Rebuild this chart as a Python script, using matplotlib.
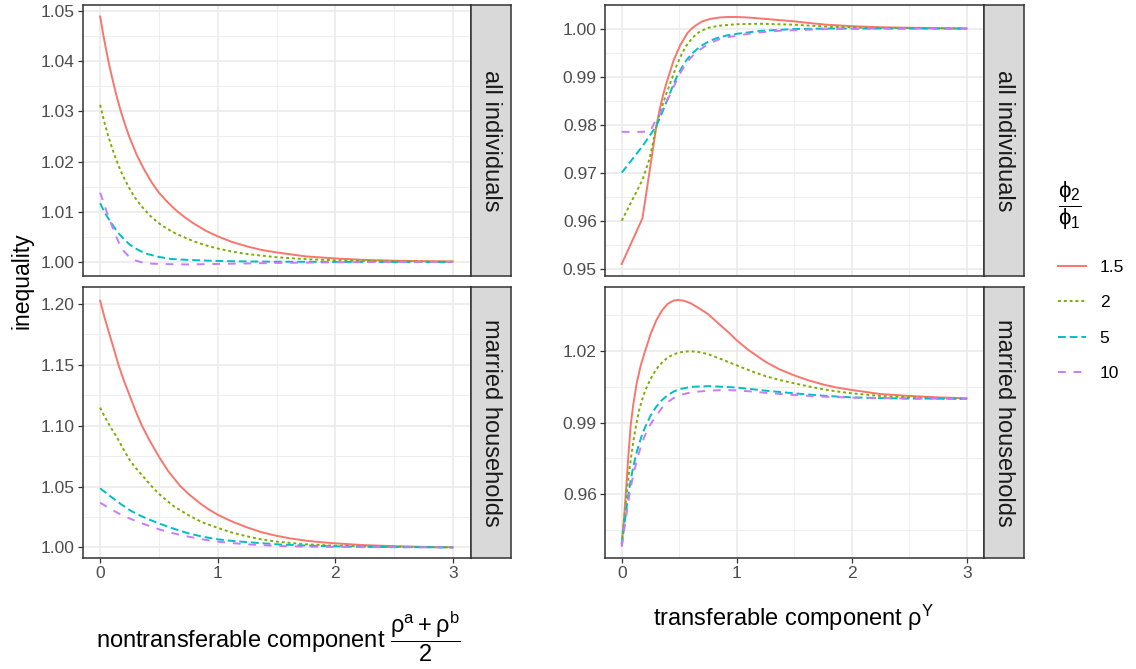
import matplotlib.pyplot as plt
from matplotlib.ticker import FixedLocator

plt.rcParams["font.family"] = ["Liberation Sans", "DejaVu Sans"]
plt.rcParams["mathtext.fontset"] = "custom"
plt.rcParams["mathtext.rm"] = "Liberation Sans"
plt.rcParams["mathtext.it"] = "Liberation Sans"
plt.rcParams["mathtext.default"] = "regular"

W, H = 1136, 669

RATIOS = ["1.5", "2", "5", "10"]
COLORS = ["#F8766D", "#7CAE00", "#00BFC4", "#C77CFF"]
DASHES = [None, (1.5, 1.5), (4, 2), (4, 4)]
ROWS = ["all individuals", "married households"]

# nontransferable component, all individuals
nt_all_x_15 = [0, 0.025, 0.05, 0.075, 0.1, 0.135, 0.17, 0.21, 0.25, 0.31, 0.37, 0.44, 0.5, 0.57, 0.65, 0.72,
               0.8, 0.9, 1.0, 1.12, 1.25, 1.37, 1.5, 1.75, 2.0, 2.25, 2.5, 2.75, 3.0]
nt_all_y_15 = [1.0489, 1.0455, 1.0424, 1.0395, 1.0369, 1.0335, 1.0305, 1.0275, 1.0248, 1.0214, 1.0186,
               1.0158, 1.0138, 1.0120, 1.0102, 1.0089, 1.0076, 1.0062, 1.0051, 1.0040, 1.0031, 1.0024,
               1.0019, 1.0011, 1.0007, 1.0004, 1.00025, 1.00015, 1.0001]
nt_all_x_2 = [0, 0.035, 0.07, 0.12, 0.17, 0.21, 0.26, 0.3, 0.35, 0.43, 0.5, 0.55, 0.6, 0.65, 0.8, 0.9, 1.0,
              1.12, 1.25, 1.5, 1.75, 2.0, 2.5, 3.0]
nt_all_y_2 = [1.0313, 1.0279, 1.0250, 1.0214, 1.0184, 1.0164, 1.0142, 1.0127, 1.01115, 1.0091, 1.0077,
              1.0069, 1.0062, 1.00558, 1.00407, 1.0033, 1.00267, 1.00208, 1.00158, 1.00094, 1.00055,
              1.00033, 1.00012, 1.00004]
nt_all_x_5 = [0, 0.025, 0.05, 0.075, 0.1, 0.15, 0.2, 0.25, 0.3, 0.35, 0.4, 0.5, 0.6, 0.75, 1.0, 1.25, 1.5,
              2.0, 3.0]
nt_all_y_5 = [1.0117, 1.0105, 1.0094, 1.0085, 1.0076, 1.0059, 1.0046, 1.0035, 1.0027, 1.0021, 1.0016,
              1.0010, 1.0006, 1.0004, 1.0002, 1.0001, 1.00005, 1.0, 1.0]
nt_all_x_10 = [0, 0.025, 0.05, 0.075, 0.1, 0.135, 0.17, 0.2, 0.24, 0.29, 0.34, 0.4, 0.5, 0.75, 1.0, 1.5,
               2.0, 2.5, 3.0]
nt_all_y_10 = [1.0138, 1.0121, 1.0104, 1.0088, 1.0072, 1.0051, 1.0033, 1.0022, 1.0012, 1.0004, 1.0000,
               0.9997, 0.9996, 0.9995, 0.9996, 0.9998, 0.99993, 1.0, 1.0]

# nontransferable component, married households
nt_mar_x_15 = [0, 0.04, 0.08, 0.12, 0.156, 0.2, 0.25, 0.3, 0.355, 0.42, 0.5, 0.58, 0.68, 0.76, 0.85, 0.92,
               1.0, 1.12, 1.25, 1.37, 1.5, 1.62, 1.75, 1.87, 2.0, 2.25, 2.5, 2.75, 3.0]
nt_mar_y_15 = [1.2027, 1.1880, 1.1750, 1.1620, 1.1500, 1.1375, 1.1250, 1.1125, 1.1000, 1.0880, 1.0745,
               1.0625, 1.0505, 1.0432, 1.0362, 1.0314, 1.0268, 1.0213, 1.0164, 1.0125, 1.0095, 1.0073,
               1.0055, 1.0043, 1.0033, 1.0018, 1.0010, 1.0004, 1.0000]
nt_mar_x_2 = [0, 0.035, 0.07, 0.105, 0.14, 0.19, 0.25, 0.3, 0.35, 0.44, 0.5, 0.56, 0.63, 0.75, 0.87, 1.0,
              1.12, 1.25, 1.37, 1.5, 1.75, 2.0, 2.25, 2.5, 3.0]
nt_mar_y_2 = [1.1148, 1.1080, 1.1020, 1.0962, 1.0910, 1.0820, 1.0720, 1.0655, 1.0600, 1.0500, 1.0440,
              1.0390, 1.0335, 1.0265, 1.0205, 1.0160, 1.0122, 1.0090, 1.0066, 1.0047, 1.0025, 1.0014,
              1.0008, 1.0004, 1.0000]
nt_mar_x_5 = [0, 0.05, 0.1, 0.17, 0.25, 0.32, 0.4, 0.5, 0.62, 0.75, 0.87, 1.0, 1.12, 1.25, 1.5, 1.75,
              2.0, 2.5, 3.0]
nt_mar_y_5 = [1.0485, 1.0447, 1.0410, 1.0360, 1.0307, 1.0270, 1.0235, 1.0197, 1.0155, 1.0115, 1.0088,
              1.0066, 1.0053, 1.0043, 1.0025, 1.0015, 1.0008, 1.0002, 1.0000]
nt_mar_x_10 = [0, 0.05, 0.1, 0.17, 0.25, 0.32, 0.4, 0.5, 0.62, 0.75, 0.87, 1.0, 1.12, 1.25, 1.5, 1.75,
               2.0, 2.5, 3.0]
nt_mar_y_10 = [1.0367, 1.0338, 1.0310, 1.0272, 1.0238, 1.0210, 1.0182, 1.0148, 1.0116, 1.0088, 1.0066,
               1.0047, 1.0035, 1.0025, 1.0012, 1.0006, 1.0003, 1.0001, 1.0000]

# transferable component, all individuals
tr_all_x_15 = [0, 0.18, 0.24, 0.30, 0.33, 0.36, 0.39, 0.42, 0.45, 0.48, 0.51, 0.54, 0.57, 0.60, 0.64, 0.7,
               0.77, 0.85, 0.92, 1.0, 1.1, 1.2, 1.35, 1.5, 1.65, 1.78, 2.0, 2.2, 2.4, 2.7, 3.0]
tr_all_y_15 = [0.9510, 0.9605, 0.9700, 0.9795, 0.9832, 0.9862, 0.9888, 0.9910, 0.9933, 0.9950, 0.9966,
               0.9978, 0.9990, 0.9998, 1.0006, 1.0015, 1.0020, 1.0023, 1.0024, 1.0024, 1.0023, 1.0021,
               1.0018, 1.0015, 1.0011, 1.0008, 1.0005, 1.0003, 1.0002, 1.0001, 1.0000]
tr_all_x_2 = [0, 0.18, 0.24, 0.27, 0.30, 0.33, 0.36, 0.39, 0.42, 0.45, 0.48, 0.52, 0.56, 0.62, 0.68, 0.76,
              0.85, 1.0, 1.2, 1.35, 1.5, 1.78, 2.07, 2.5, 3.0]
tr_all_y_2 = [0.9600, 0.9685, 0.9728, 0.9760, 0.9795, 0.9822, 0.9845, 0.9866, 0.9885, 0.9905, 0.9925,
              0.9946, 0.9964, 0.9982, 0.9994, 1.0002, 1.0006, 1.0009, 1.0010, 1.0009, 1.0008, 1.0004,
              1.0002, 1.0001, 1.0000]
tr_all_x_5 = [0, 0.18, 0.30, 0.33, 0.36, 0.39, 0.42, 0.45, 0.48, 0.52, 0.565, 0.62, 0.68, 0.76, 0.85, 0.92,
              1.0, 1.1, 1.2, 1.35, 1.5, 1.8, 3.0]
tr_all_y_5 = [0.9700, 0.9755, 0.9797, 0.9813, 0.9830, 0.9848, 0.9866, 0.9884, 0.9900, 0.9918, 0.9935,
              0.9950, 0.9962, 0.9974, 0.9982, 0.9986, 0.9989, 0.9992, 0.9995, 0.9997, 0.9999, 1.0000, 1.0000]
tr_all_x_10 = [0, 0.18, 0.25, 0.28, 0.31, 0.36, 0.42, 0.45, 0.48, 0.52, 0.565, 0.62, 0.68, 0.76, 0.85, 0.92,
               1.0, 1.1, 1.2, 1.35, 1.5, 1.8, 2.2, 3.0]
tr_all_y_10 = [0.9785, 0.9785, 0.9787, 0.9802, 0.9815, 0.9835, 0.9862, 0.9878, 0.9893, 0.9912, 0.9930,
               0.9944, 0.9956, 0.9969, 0.9978, 0.9982, 0.9985, 0.9989, 0.9992, 0.9995, 0.99965, 0.9999,
               1.0000, 1.0000]

# transferable component, married households
tr_mar_x_15 = [0, 0.02, 0.035, 0.055, 0.078, 0.1, 0.13, 0.165, 0.2, 0.25, 0.3, 0.35, 0.4, 0.45, 0.49, 0.54,
               0.6, 0.67, 0.75, 0.83, 0.92, 1.0, 1.1, 1.25, 1.37, 1.5, 1.62, 1.75, 1.87, 2.0, 2.25, 2.5,
               2.75, 3.0]
tr_mar_y_15 = [0.9395, 0.9500, 0.9600, 0.9745, 0.9890, 0.9975, 1.0065, 1.0140, 1.0195, 1.0270, 1.0328,
               1.0370, 1.0398, 1.0411, 1.0414, 1.0411, 1.0400, 1.0380, 1.0355, 1.0320, 1.0282, 1.0245,
               1.0205, 1.0155, 1.0124, 1.0098, 1.0078, 1.0060, 1.0047, 1.0037, 1.0020, 1.0012, 1.0006,
               1.0002]
tr_mar_x_2 = [0, 0.02, 0.043, 0.06, 0.08, 0.1, 0.125, 0.15, 0.17, 0.2, 0.25, 0.3, 0.35, 0.4, 0.45, 0.5, 0.55,
              0.6, 0.67, 0.75, 0.87, 1.0, 1.12, 1.25, 1.37, 1.5, 1.62, 1.75, 1.87, 2.0, 2.25, 2.5, 2.75, 3.0]
tr_mar_y_2 = [0.9390, 0.9495, 0.9600, 0.9680, 0.9750, 0.9820, 0.9890, 0.9950, 0.9985, 1.0030, 1.0083,
              1.0124, 1.0152, 1.0173, 1.0186, 1.0194, 1.0198, 1.0199, 1.0196, 1.0187, 1.0165, 1.0140,
              1.0117, 1.0095, 1.0079, 1.0065, 1.0052, 1.0040, 1.0031, 1.0023, 1.0012, 1.0006, 1.0002,
              1.0000]
tr_mar_x_5 = [0, 0.03, 0.058, 0.08, 0.1, 0.125, 0.15, 0.175, 0.2, 0.25, 0.3, 0.35, 0.4, 0.45, 0.5, 0.6,
              0.75, 0.9, 1.0, 1.12, 1.25, 1.5, 1.75, 2.0, 2.25, 2.5, 3.0]
tr_mar_y_5 = [0.9385, 0.9500, 0.9600, 0.9665, 0.9715, 0.9767, 0.9810, 0.9847, 0.9878, 0.9929, 0.9967,
              0.9995, 1.0015, 1.0030, 1.0040, 1.0050, 1.0053, 1.0050, 1.0047, 1.0041, 1.0034, 1.0023,
              1.0013, 1.0006, 1.0003, 1.0001, 1.0000]
tr_mar_x_10 = [0, 0.03, 0.067, 0.085, 0.1, 0.125, 0.15, 0.175, 0.2, 0.25, 0.3, 0.35, 0.4, 0.45, 0.5, 0.6,
               0.75, 0.9, 1.0, 1.12, 1.25, 1.5, 1.75, 2.0, 2.5, 3.0]
tr_mar_y_10 = [0.9380, 0.9480, 0.9600, 0.9645, 0.9680, 0.9730, 0.9775, 0.9812, 0.9845, 0.9893, 0.9930,
               0.9962, 0.9986, 1.0003, 1.0015, 1.0027, 1.0034, 1.0037, 1.0035, 1.0031, 1.0025, 1.0016,
               1.0009, 1.0005, 1.0001, 1.0000]

X_TICKS = [0, 1, 2, 3]

BORDER = "#333333"
GRID = "#EBEBEB"
TICK_TEXT = "#4D4D4D"


def rect(x0, y0, x1, y1):
    return [x0 / W, 1 - y1 / H, (x1 - x0) / W, (y1 - y0) / H]


def panel(fig, box, series, ylim, yticks, yminor, show_x):
    ax = fig.add_axes(rect(*box))
    lines = []
    for (xs, ys), color, dash in zip(series, COLORS, DASHES):
        (ln,) = ax.plot(xs, ys, color=color, lw=1.4)
        if dash is not None:
            ln.set_dashes(dash)
        lines.append(ln)
    ax.set_xlim(-0.15, 3.15)
    ax.set_ylim(*ylim)
    ax.xaxis.set_major_locator(FixedLocator(X_TICKS))
    ax.xaxis.set_minor_locator(FixedLocator([0.5, 1.5, 2.5]))
    ax.yaxis.set_major_locator(FixedLocator(yticks))
    ax.yaxis.set_minor_locator(FixedLocator(yminor))
    ax.set_yticklabels([f"{v:.2f}" for v in yticks])
    ax.grid(True, which="major", color=GRID, lw=1.2)
    ax.grid(True, which="minor", color=GRID, lw=0.6)
    ax.set_axisbelow(True)
    for s in ax.spines.values():
        s.set_color(BORDER)
        s.set_linewidth(1.1)
    ax.tick_params(which="major", length=3.5, width=0.9, color=BORDER,
                   labelsize=12.5, labelcolor=TICK_TEXT, pad=2)
    ax.tick_params(which="minor", length=0)
    if not show_x:
        ax.tick_params(axis="x", which="major", length=0, labelbottom=False)
    return ax, lines


def strip(fig, box, text):
    ax = fig.add_axes(rect(*box))
    ax.set_facecolor("#D9D9D9")
    ax.set_xticks([])
    ax.set_yticks([])
    for s in ax.spines.values():
        s.set_color(BORDER)
        s.set_linewidth(1.1)
    ax.text(0.5, 0.5, text, rotation=-90, ha="center", va="center",
            fontsize=17, color="#1A1A1A", transform=ax.transAxes)


fig = plt.figure(figsize=(W / 100, H / 100), dpi=100)

top = (5, 276)
bot = (287.3, 558.3)

panel(fig, (82.5, top[0], 470.5, top[1]),
      [(nt_all_x_15, nt_all_y_15), (nt_all_x_2, nt_all_y_2),
       (nt_all_x_5, nt_all_y_5), (nt_all_x_10, nt_all_y_10)],
      (0.9972, 1.0512), [1.00, 1.01, 1.02, 1.03, 1.04, 1.05],
      [1.005, 1.015, 1.025, 1.035, 1.045], False)
panel(fig, (82.5, bot[0], 470.5, bot[1]),
      [(nt_mar_x_15, nt_mar_y_15), (nt_mar_x_2, nt_mar_y_2),
       (nt_mar_x_5, nt_mar_y_5), (nt_mar_x_10, nt_mar_y_10)],
      (0.991, 1.2137), [1.00, 1.05, 1.10, 1.15, 1.20],
      [1.025, 1.075, 1.125, 1.175], True)
panel(fig, (604.5, top[0], 984, top[1]),
      [(tr_all_x_15, tr_all_y_15), (tr_all_x_2, tr_all_y_2),
       (tr_all_x_5, tr_all_y_5), (tr_all_x_10, tr_all_y_10)],
      (0.9485, 1.0049), [0.95, 0.96, 0.97, 0.98, 0.99, 1.00],
      [0.955, 0.965, 0.975, 0.985, 0.995], False)
_, handles = panel(fig, (604.5, bot[0], 984, bot[1]),
                   [(tr_mar_x_15, tr_mar_y_15), (tr_mar_x_2, tr_mar_y_2),
                    (tr_mar_x_5, tr_mar_y_5), (tr_mar_x_10, tr_mar_y_10)],
                   (0.9332, 1.0467), [0.96, 0.99, 1.02],
                   [0.945, 0.975, 1.005, 1.035], True)

strip(fig, (470.5, top[0], 511, top[1]), ROWS[0])
strip(fig, (470.5, bot[0], 511, bot[1]), ROWS[1])
strip(fig, (984, top[0], 1023.5, top[1]), ROWS[0])
strip(fig, (984, bot[0], 1023.5, bot[1]), ROWS[1])

fig.text(22 / W, 1 - 281 / H, "inequality", rotation=90, ha="center", va="center",
         fontsize=16.5, color="black")
fig.text(278 / W, 1 - 637 / H, r"nontransferable component $\dfrac{\rho^{a}+\rho^{b}}{2}$",
         ha="center", va="center", fontsize=17, color="black")
fig.text(794 / W, 1 - 618 / H, r"transferable component $\rho^{Y}$",
         ha="center", va="center", fontsize=17, color="black")

leg = fig.legend(handles, RATIOS, loc="upper left", bbox_to_anchor=(1058 / W, 1 - 179 / H),
                 frameon=False, fontsize=12.5, title=r"$\dfrac{\phi_2}{\phi_1}$", title_fontsize=16,
                 handlelength=1.6, handletextpad=0.8, labelspacing=1.17, alignment="left",
                 borderaxespad=0, borderpad=0)
leg._legend_box.sep = 20

fig.savefig("out.png", dpi=100)
